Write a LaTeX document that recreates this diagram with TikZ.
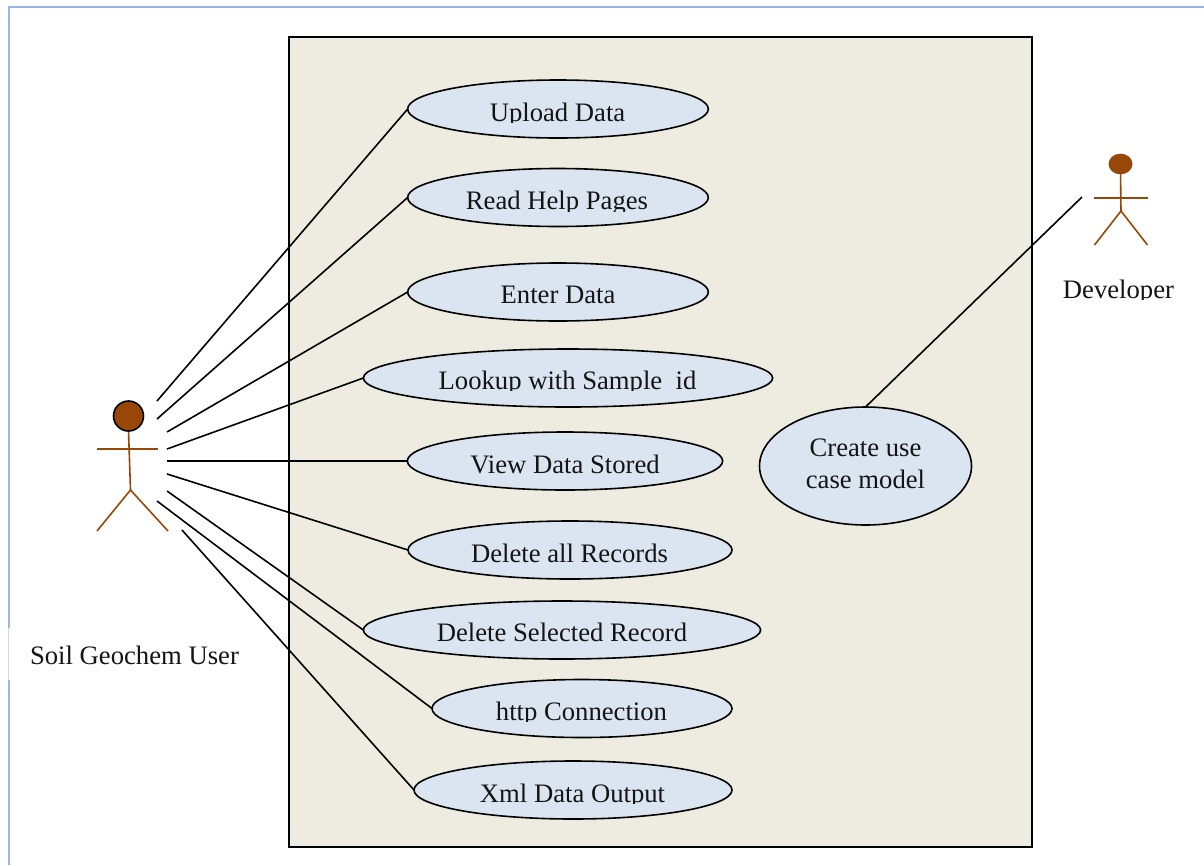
\documentclass[tikz,border=0pt]{standalone}
\usepackage{fontspec}
\setmainfont{Liberation Serif}
\usetikzlibrary{shapes.geometric}
\definecolor{frameblue}{HTML}{95B8E6}
\definecolor{framelight}{HTML}{C9DAF2}
\definecolor{sysfill}{HTML}{EEECE1}
\definecolor{ucfill}{HTML}{DBE5F1}
\definecolor{actorbrown}{HTML}{984806}
\definecolor{inkblack}{HTML}{141414}
\tikzset{
  x=0.75pt,y=-0.75pt,
  uc/.style={ellipse,draw=black,fill=ucfill,line width=1.2pt,inner sep=0pt,outer sep=0pt},
  link/.style={draw=black,line width=1.2pt},
  limb/.style={draw=actorbrown,line width=1.2pt},
  lbl/.style={font=\fontsize{20}{24}\selectfont,inner sep=0pt,outer sep=0pt,anchor=base,text=inkblack}
}
% label whose descenders are cut off just under the baseline, as in the reference
\newcommand{\cutlabel}[4]{%
  \begin{scope}
    \clip (#2-220,#3-30) rectangle (#2+220,#3+1.5);
    \node[lbl] (#1) at (#2,#3) {#4};
  \end{scope}}
\begin{document}
\begin{tikzpicture}
\useasboundingbox (0,0) rectangle (1204,865);
\fill[white] (0,0) rectangle (1204,865);
\draw[frameblue,line width=1.5pt] (8.5,628) -- (8.5,7) -- (1204,7);
\draw[framelight,line width=1.0pt] (8.5,628) -- (8.5,680);
\draw[frameblue,line width=1.5pt] (8.5,680) -- (8.5,865);
\node[draw=black,fill=sysfill,line width=1.3pt,minimum width=557.5pt,minimum height=607pt,inner sep=0pt,outer sep=0pt] (sys) at (660.5,442) {};

\node[uc,minimum width=225.5pt,minimum height=43.5pt] (u1) at (558,109) {};
\node[uc,minimum width=225.5pt,minimum height=43.5pt] (u2) at (558,197.5) {};
\node[uc,minimum width=225.5pt,minimum height=43.5pt] (u3) at (558,292) {};
\node[uc,minimum width=307pt,minimum height=43.5pt] (u4) at (568,378) {};
\node[uc,minimum width=236.5pt,minimum height=43.5pt] (u5) at (565,461) {};
\node[uc,minimum width=243pt,minimum height=43.5pt] (u6) at (570,550) {};
\node[uc,minimum width=298pt,minimum height=43.5pt] (u7) at (562,630) {};
\node[uc,minimum width=225pt,minimum height=43.5pt] (u8) at (582,708.5) {};
\node[uc,minimum width=238.5pt,minimum height=43.5pt] (u9) at (573,790) {};
\node[uc,minimum width=159pt,minimum height=88.5pt] (u10) at (865.5,466) {};

\cutlabel{t1}{557.5}{121}{Upload Data}
\cutlabel{t2}{557}{209.5}{Read Help Pages}
\node[lbl] (t3) at (558,303) {Enter Data};
\cutlabel{t4}{567.5}{389}{Lookup with Sample\ \ id}
\node[lbl] (t5) at (565,473) {View Data Stored};
\node[lbl] (t6) at (569.5,562) {Delete all Records};
\node[lbl] (t7) at (562,641) {Delete Selected Record};
\cutlabel{t8}{581.5}{720}{http Connection}
\cutlabel{t9}{572.5}{802}{Xml Data Output}
\node[lbl] (t10a) at (865.5,456) {Create use};
\node[lbl] (t10b) at (865.5,488) {case model};

\coordinate (a1) at (157,401);
\coordinate (a2) at (157,419);
\coordinate (a3) at (167,432);
\coordinate (a4) at (167,449);
\coordinate (a5) at (167,461);
\coordinate (a6) at (167,474);
\coordinate (a7) at (167,491);
\coordinate (a8) at (157,501);
\coordinate (a9) at (182,530);
\coordinate (d1) at (1082,197);
\draw[link] (a1) -- (u1.west);
\draw[link] (a2) -- (u2.west);
\draw[link] (a3) -- (u3.west);
\draw[link] (a4) -- (u4.west);
\draw[link] (a5) -- (u5.west);
\draw[link] (a6) -- (u6.west);
\draw[link] (a7) -- (u7.west);
\draw[link] (a8) -- (u8.west);
\draw[link] (a9) -- (u9.west);
\draw[link] (d1) -- (u10.north);

% Soil Geochem User actor
\draw[limb] (128.5,431) -- (130.5,490);
\draw[limb] (97,449) -- (158,449);
\draw[limb] (97,531) -- (130.5,490) -- (168,531);
\node[circle,draw=black,fill=actorbrown,line width=1.2pt,minimum size=22.5pt,inner sep=0pt] (head1) at (128.5,416) {};
% Developer actor
\draw[limb] (1120.5,170) -- (1121,211);
\draw[limb] (1094,198) -- (1148,198);
\draw[limb] (1094.5,245) -- (1121,211) -- (1147.5,245);
\node[ellipse,fill=actorbrown,minimum width=18pt,minimum height=15.5pt,inner sep=0pt] (head2) at (1120.5,164) {};

\node[lbl] (l1) at (134.5,664) {Soil Geochem User};
\cutlabel{l2}{1118.5}{298}{Developer}
\end{tikzpicture}
\end{document}
